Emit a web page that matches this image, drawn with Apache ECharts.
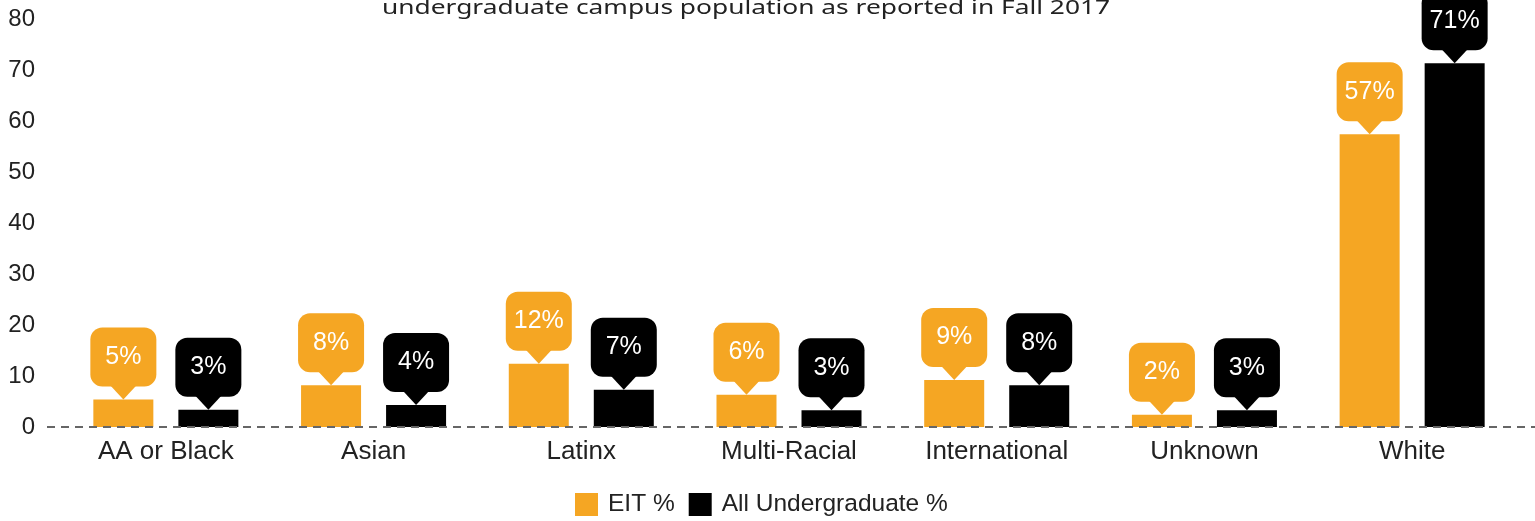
<!DOCTYPE html>
<html>
<head>
<meta charset="utf-8">
<script src="https://cdn.jsdelivr.net/npm/echarts@6/dist/echarts.min.js"></script>
<style>
  html, body { margin: 0; padding: 0; background: #fff; }
  #chart { width: 1535px; height: 521px; }
</style>
</head>
<body>
<div id="chart"></div>
<script>
  // categories and values
  var categories = ['AA or Black', 'Asian', 'Latinx', 'Multi-Racial', 'International', 'Unknown', 'White'];
  var eitValues = [5.4, 8.2, 12.4, 6.3, 9.2, 2.4, 57.4];
  var allUgValues = [3.4, 4.3, 7.3, 3.3, 8.2, 3.3, 71.3];
  var seriesNames = ['EIT %', 'All Undergraduate %'];
  var yTicks = [0, 80, 10]; // min, max, interval
  var titleText = 'undergraduate campus population as reported in Fall 2017';

  var ORANGE = '#F5A623';
  var BLACK = '#000000';
  var FONT = '"Liberation Sans", Arial, sans-serif';

  var chart = echarts.init(document.getElementById('chart'));

  // speech-bubble label drawn above each bar
  function bubble(values, color, offset) {
    return {
      type: 'custom',
      name: '',
      silent: true,
      z: 5,
      data: values.map(function (v, i) { return [i, v]; }),
      renderItem: function (params, api) {
        var p = api.coord([api.value(0), api.value(1)]);
        var x = p[0] + offset, y = p[1];
        var w = 66, h = 59, tip = 13;
        return {
          type: 'group',
          children: [
            { type: 'rect', shape: { x: x - w / 2, y: y - tip - h, width: w, height: h, r: 12 }, style: { fill: color } },
            { type: 'polygon', shape: { points: [[x - 13, y - tip - 1], [x + 13, y - tip - 1], [x, y]] }, style: { fill: color } },
            { type: 'text', x: x, y: y - tip - h / 2,
              style: { text: Math.round(api.value(1)) + '%', fill: '#fff', fontSize: 25, fontFamily: FONT, align: 'center', verticalAlign: 'middle' } }
          ]
        };
      }
    };
  }

  var option = {
    animation: false,
    legend: {
      data: seriesNames,
      top: 492,
      left: 575,
      padding: 0,
      icon: 'rect',
      itemWidth: 23,
      itemHeight: 23,
      itemGap: 14,
      textStyle: { fontSize: 24.5, color: '#222', fontFamily: FONT, padding: [0, 0, 0, 5] }
    },
    grid: { left: 62, right: 19, top: 19, bottom: 94 },
    xAxis: {
      type: 'category',
      data: categories,
      axisLine: { show: false },
      axisTick: { show: false },
      axisLabel: { fontSize: 26, color: '#222', fontFamily: FONT, margin: 12 }
    },
    yAxis: {
      type: 'value',
      min: yTicks[0],
      max: yTicks[1],
      interval: yTicks[2],
      axisLine: { show: false },
      axisTick: { show: false },
      splitLine: { show: false },
      axisLabel: { fontSize: 24, color: '#222', fontFamily: FONT, margin: 27 }
    },
    series: [
      { name: seriesNames[0], type: 'bar', data: eitValues, barWidth: 60, barGap: '41.7%', itemStyle: { color: ORANGE } },
      { name: seriesNames[1], type: 'bar', data: allUgValues, barWidth: 60, barGap: '41.7%', itemStyle: { color: BLACK } },
      bubble(eitValues, ORANGE, -42.5),
      bubble(allUgValues, BLACK, 42.5)
    ]
  };

  chart.setOption(option);

  // dashed baseline at y = 0, wider than the plot area; title (cut at top) as wide text
  var y0 = chart.convertToPixel({ yAxisIndex: 0 }, 0);
  chart.setOption({
    graphic: [{
      type: 'line',
      z: 10,
      shape: { x1: 47, y1: y0, x2: 1535, y2: y0 },
      style: { stroke: '#666', lineWidth: 2, lineDash: [8, 6] }
    }, {
      type: 'text',
      x: 382,
      y: 8,
      scaleX: 1.35,
      style: { text: titleText, fontSize: 19.5, fill: '#222', fontFamily: '"Noto Sans", sans-serif', verticalAlign: 'middle' }
    }]
  });
</script>
</body>
</html>
